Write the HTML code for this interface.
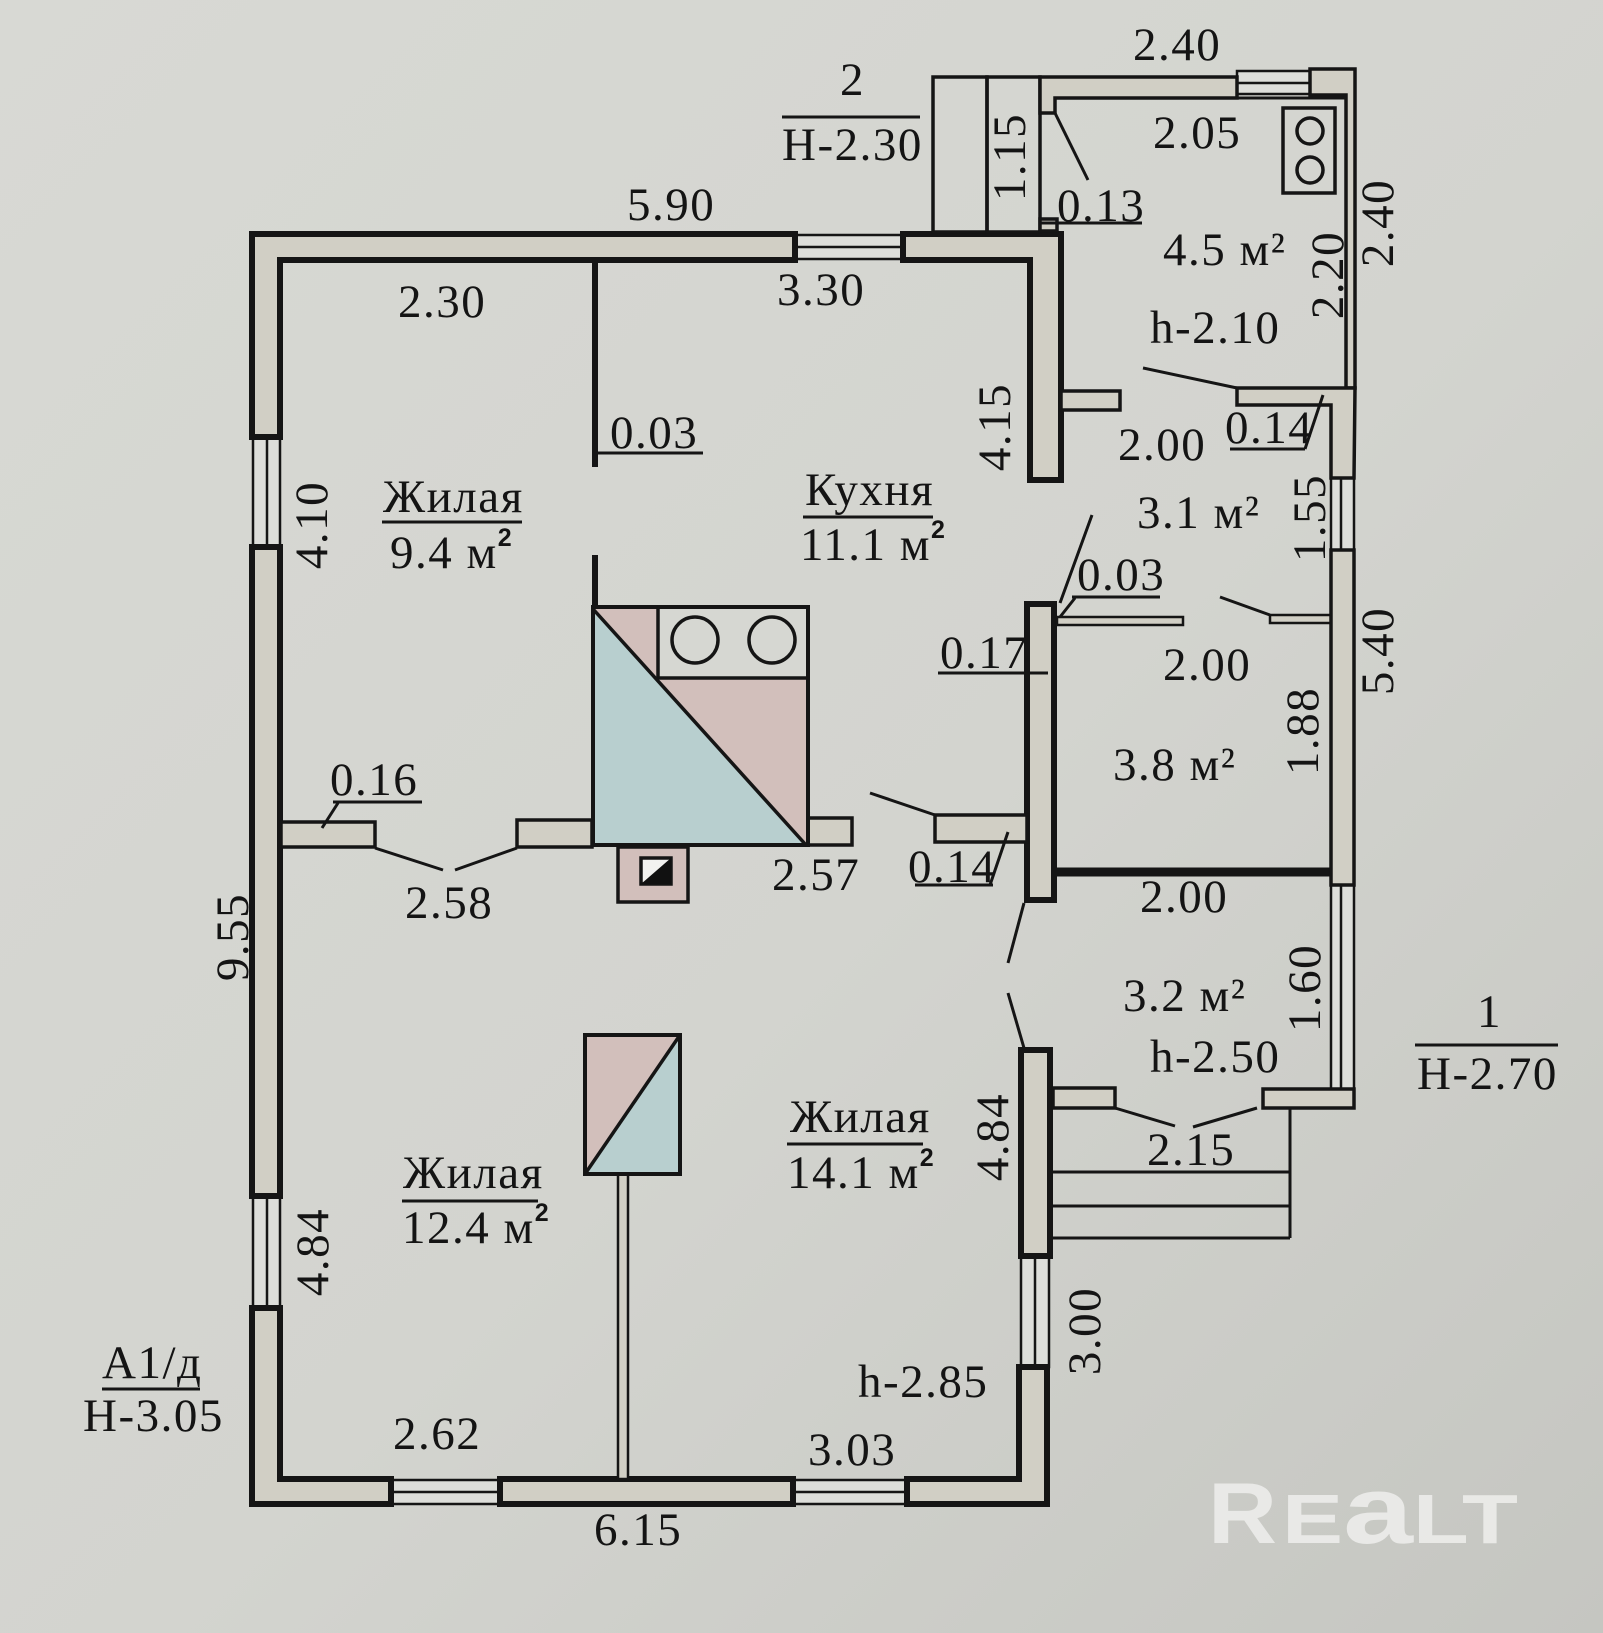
<!DOCTYPE html>
<html><head><meta charset="utf-8"><style>
html,body{margin:0;padding:0;background:#d4d5d0;}
svg{display:block}
text{font-family:"Liberation Serif","DejaVu Serif",serif;font-size:47px;letter-spacing:1.5px;fill:#141414}
.sup{font-family:"Liberation Sans",sans-serif;font-size:25px;font-weight:bold;letter-spacing:0}
</style></head><body>
<svg width="1603" height="1633" viewBox="0 0 1603 1633" xmlns="http://www.w3.org/2000/svg">
<defs>
<linearGradient id="bg" x1="0" y1="0" x2="1" y2="1">
<stop offset="0" stop-color="#d8d9d4"/>
<stop offset="0.55" stop-color="#d3d4cf"/>
<stop offset="1" stop-color="#c5c6c1"/>
</linearGradient>
</defs>
<rect width="1603" height="1633" fill="url(#bg)"/>

<!-- WINDOWS -->
<g fill="#dddeda" stroke="#151515" stroke-width="2.5">
<rect x="253" y="437" width="27" height="110"/><line x1="267" y1="437" x2="267" y2="547"/>
<rect x="253" y="1196" width="27" height="112"/><line x1="267" y1="1196" x2="267" y2="1308"/>
<rect x="795" y="235" width="108" height="24"/><line x1="795" y1="247" x2="903" y2="247"/>
<rect x="391" y="1480" width="109" height="24"/><line x1="391" y1="1492" x2="500" y2="1492"/>
<rect x="793" y="1480" width="114" height="24"/><line x1="793" y1="1492" x2="907" y2="1492"/>
<rect x="1021" y="1256" width="28" height="111"/><line x1="1035" y1="1256" x2="1035" y2="1367"/>
<rect x="1237" y="71" width="73" height="23"/><line x1="1237" y1="83" x2="1310" y2="83"/>
<rect x="1331" y="478" width="23" height="72"/><line x1="1341" y1="478" x2="1341" y2="550"/>
<rect x="1331" y="885" width="23" height="204"/><line x1="1341" y1="885" x2="1341" y2="1089"/>
</g>

<!-- MAIN WALLS -->
<g fill="#d1cfc5" stroke="#151515" stroke-width="6" stroke-linejoin="miter">
<polygon points="252,234 795,234 795,260 280,260 280,437 252,437"/>
<polygon points="903,234 1061,234 1061,480 1030,480 1030,260 903,260"/>
<rect x="252" y="547" width="28" height="649"/>
<polygon points="252,1308 280,1308 280,1479 391,1479 391,1504 252,1504"/>
<rect x="500" y="1479" width="293" height="25"/>
<polygon points="907,1479 1019,1479 1019,1367 1047,1367 1047,1504 907,1504"/>
<rect x="1021" y="1050" width="29" height="206"/>
<rect x="1027" y="604" width="27" height="296"/>
</g>

<!-- partition 9.4 / kitchen -->
<g stroke="#151515" stroke-width="6" fill="none">
<line x1="595" y1="260" x2="595" y2="467"/>
<line x1="595" y1="555" x2="595" y2="608"/>
<line x1="1057" y1="872" x2="1331" y2="872" stroke-width="9"/>
</g>

<!-- interior stubs -->
<g fill="#d1cfc5" stroke="#151515" stroke-width="3.5">
<rect x="281" y="822" width="94" height="25"/>
<rect x="517" y="820" width="75" height="27"/>
<rect x="808" y="818" width="44" height="27"/>
<rect x="935" y="815" width="92" height="27"/>
<rect x="1061" y="391" width="59" height="19"/>
<rect x="1057" y="617" width="126" height="8" stroke-width="2.5"/>
<rect x="1270" y="615" width="61" height="8" stroke-width="2.5"/>
<rect x="618" y="1174" width="10" height="305" stroke-width="2.5"/>
<rect x="1053" y="1088" width="62" height="20"/>
<rect x="1263" y="1089" width="91" height="19"/>
</g>

<!-- ANNEX -->
<g fill="none" stroke="#151515" stroke-width="3.5">
<rect x="933" y="77" width="54" height="155"/>
<rect x="987" y="77" width="53" height="155"/>
</g>
<g fill="#d1cfc5" stroke="#151515" stroke-width="3.5">
<polygon points="1040,77 1237,77 1237,98 1055,98 1055,113 1040,113"/>
<polygon points="1310,69 1355,69 1355,388 1346,388 1346,95 1310,95"/>
<polygon points="1237,388 1355,388 1354,478 1331,478 1331,405 1237,405"/>
<rect x="1331" y="550" width="23" height="335"/>
<rect x="1040" y="219" width="17" height="12"/>
</g>
<line x1="1237" y1="98" x2="1346" y2="98" stroke="#151515" stroke-width="3"/>

<!-- small stove in annex -->
<g fill="none" stroke="#151515" stroke-width="3.5">
<rect x="1283" y="108" width="52" height="85"/>
<circle cx="1310" cy="131" r="13"/>
<circle cx="1310" cy="170" r="13"/>
</g>

<!-- steps -->
<g stroke="#151515" stroke-width="3" fill="none">
<line x1="1053" y1="1172" x2="1290" y2="1172"/>
<line x1="1053" y1="1206" x2="1290" y2="1206"/>
<line x1="1053" y1="1238" x2="1290" y2="1238"/>
<line x1="1290" y1="1108" x2="1290" y2="1238"/>
</g>

<!-- STOVE 1 -->
<polygon points="593,607 808,607 808,845 805,845" fill="#d2bfbb"/>
<polygon points="593,607 805,845 593,845" fill="#b8cfcf"/>
<rect x="658" y="607" width="150" height="71" fill="#d6d7d2" stroke="#151515" stroke-width="3.5"/>
<circle cx="695" cy="640" r="23" fill="none" stroke="#151515" stroke-width="3.5"/>
<circle cx="772" cy="640" r="23" fill="none" stroke="#151515" stroke-width="3.5"/>
<line x1="593" y1="609" x2="806" y2="845" stroke="#151515" stroke-width="3.5"/>
<rect x="593" y="607" width="215" height="238" fill="none" stroke="#151515" stroke-width="4"/>
<!-- chimney -->
<rect x="618" y="847" width="70" height="55" fill="#d2bfbb" stroke="#151515" stroke-width="3.5"/>
<rect x="641" y="858" width="30" height="26" fill="#f2f2f0" stroke="#151515" stroke-width="3.5"/>
<polygon points="671,858 671,884 641,884" fill="#111"/>

<!-- STOVE 2 -->
<polygon points="585,1035 680,1035 585,1174" fill="#d2bfbb"/>
<polygon points="680,1035 680,1174 585,1174" fill="#b8cfcf"/>
<line x1="585" y1="1174" x2="680" y2="1035" stroke="#151515" stroke-width="3.5"/>
<rect x="585" y="1035" width="95" height="139" fill="none" stroke="#151515" stroke-width="4"/>

<!-- DOOR / LEADER LINES -->
<g stroke="#151515" stroke-width="3" fill="none">
<line x1="375" y1="848" x2="443" y2="870"/>
<line x1="455" y1="870" x2="517" y2="848"/>
<line x1="870" y1="793" x2="935" y2="815"/>
<line x1="1024" y1="903" x2="1008" y2="963"/>
<line x1="1008" y1="993" x2="1024" y2="1048"/>
<line x1="1092" y1="515" x2="1060" y2="603"/>
<line x1="1060" y1="617" x2="1075" y2="598"/>
<line x1="1143" y1="368" x2="1237" y2="388"/>
<line x1="1220" y1="597" x2="1270" y2="615"/>
<line x1="1055" y1="113" x2="1088" y2="180"/>
<line x1="1115" y1="1108" x2="1175" y2="1126"/>
<line x1="1193" y1="1127" x2="1257" y2="1108"/>
<line x1="1323" y1="395" x2="1305" y2="449"/>
<line x1="1230" y1="449" x2="1305" y2="449"/>
<line x1="1008" y1="832" x2="990" y2="885"/>
<line x1="915" y1="885" x2="993" y2="885"/>
<line x1="338" y1="803" x2="322" y2="828"/>
<line x1="333" y1="802" x2="422" y2="802"/>
<line x1="938" y1="673" x2="1048" y2="673"/>
<line x1="595" y1="453" x2="703" y2="453"/>
<line x1="1072" y1="597" x2="1160" y2="597"/>
<line x1="1040" y1="223" x2="1142" y2="223"/>
<line x1="782" y1="117" x2="920" y2="117"/>
<line x1="1415" y1="1045" x2="1558" y2="1045"/>
<line x1="102" y1="1389" x2="200" y2="1389"/>
<line x1="803" y1="517" x2="933" y2="517"/>
<line x1="382" y1="522" x2="522" y2="522"/>
<line x1="402" y1="1201" x2="538" y2="1201"/>
<line x1="787" y1="1144" x2="923" y2="1144"/>
</g>

<!-- TEXT -->
<text x="627" y="220">5.90</text>
<text x="840" y="95">2</text>
<text x="782" y="160">H-2.30</text>
<text x="1133" y="60">2.40</text>
<text x="1153" y="148">2.05</text>
<text transform="translate(1025,157) rotate(-90)" text-anchor="middle">1.15</text>
<text x="1057" y="221">0.13</text>
<text x="1163" y="265">4.5 м²</text>
<text transform="translate(1343,275) rotate(-90)" text-anchor="middle">2.20</text>
<text transform="translate(1393,223) rotate(-90)" text-anchor="middle">2.40</text>
<text x="1150" y="343">h-2.10</text>
<text x="398" y="317">2.30</text>
<text x="777" y="305">3.30</text>
<text x="610" y="448">0.03</text>
<text transform="translate(1010,427) rotate(-90)" text-anchor="middle">4.15</text>
<text x="1118" y="460">2.00</text>
<text x="1225" y="443">0.14</text>
<text x="383" y="512">Жилая</text>
<text x="390" y="568">9.4 м<tspan class="sup" dy="-22">2</tspan></text>
<text transform="translate(327,525) rotate(-90)" text-anchor="middle">4.10</text>
<text x="805" y="505">Кухня</text>
<text x="800" y="560">11.1 м<tspan class="sup" dy="-22">2</tspan></text>
<text x="1137" y="528">3.1 м²</text>
<text transform="translate(1325,518) rotate(-90)" text-anchor="middle">1.55</text>
<text x="1077" y="590">0.03</text>
<text x="940" y="668">0.17</text>
<text x="1163" y="680">2.00</text>
<text transform="translate(1393,651) rotate(-90)" text-anchor="middle">5.40</text>
<text transform="translate(1318,731) rotate(-90)" text-anchor="middle">1.88</text>
<text x="1113" y="780">3.8 м²</text>
<text x="330" y="795">0.16</text>
<text x="405" y="918">2.58</text>
<text x="772" y="890">2.57</text>
<text x="908" y="882">0.14</text>
<text x="1140" y="912">2.00</text>
<text transform="translate(248,937) rotate(-90)" text-anchor="middle">9.55</text>
<text x="1123" y="1011">3.2 м²</text>
<text transform="translate(1320,988) rotate(-90)" text-anchor="middle">1.60</text>
<text x="1477" y="1027">1</text>
<text x="1417" y="1089">H-2.70</text>
<text x="1150" y="1072">h-2.50</text>
<text x="790" y="1132">Жилая</text>
<text x="787" y="1188">14.1 м<tspan class="sup" dy="-22">2</tspan></text>
<text transform="translate(1008,1137) rotate(-90)" text-anchor="middle">4.84</text>
<text x="1147" y="1165">2.15</text>
<text x="403" y="1188">Жилая</text>
<text x="402" y="1243">12.4 м<tspan class="sup" dy="-22">2</tspan></text>
<text transform="translate(328,1252) rotate(-90)" text-anchor="middle">4.84</text>
<text transform="translate(1100,1331) rotate(-90)" text-anchor="middle">3.00</text>
<text x="102" y="1378">A1/д</text>
<text x="83" y="1431">H-3.05</text>
<text x="858" y="1397">h-2.85</text>
<text x="393" y="1449">2.62</text>
<text x="808" y="1465">3.03</text>
<text x="594" y="1545">6.15</text>

<!-- WATERMARK -->
<g opacity="0.92">
<text x="1208" y="1543" style="font-family:'Liberation Sans',sans-serif;font-weight:bold;font-size:86px;fill:#ececea;letter-spacing:0" textLength="69" lengthAdjust="spacingAndGlyphs">R</text>
<text x="1282" y="1543" style="font-family:'Liberation Sans',sans-serif;font-weight:bold;font-size:70px;fill:#ececea;letter-spacing:0" textLength="236" lengthAdjust="spacingAndGlyphs">E<tspan style="font-size:96px">a</tspan>LT</text>
</g>
</svg>
</body></html>
